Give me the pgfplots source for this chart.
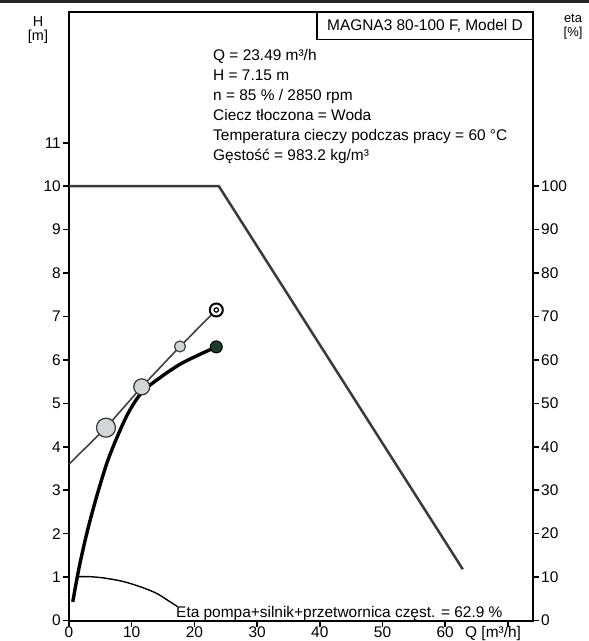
\documentclass[border=0pt]{standalone}
\usepackage{fontspec}
\setmainfont{Liberation Sans}
\usepackage{pgfplots}
\pgfplotsset{compat=1.18}
\definecolor{dotgray}{HTML}{D3D5D7}
\definecolor{opgreen}{HTML}{1E3B2C}
\definecolor{maxline}{HTML}{3A3A3A}

\begin{document}
\begin{tikzpicture}[font=\fontsize{15.5}{19.9}\selectfont]
\useasboundingbox (-69bp,-20.5bp) rectangle (520bp,620.5bp);
\pgfplotsset{
  frame/.style={
    scale only axis, width=464bp, height=608bp,
    xmin=0, xmax=74,
    tick align=outside, major tick length=6bp,
    major tick style={black, line width=1.5bp},
    axis line style={line width=2bp},
    /pgf/number format/assume math mode=true,
    tick label style={font=\fontsize{15.5}{18}\selectfont},
    yticklabel style={inner sep=2bp},
  },
}
\begin{axis}[frame, ymin=0, ymax=14,
  xtick={0,10,...,70}, xticklabels={0,10,20,30,40,50,60,{}},
  ytick={0,1,...,11},
  xtick pos=bottom, ytick pos=left,
  xticklabel style={inner sep=0.5bp},
  clip=false]
% max curve
\addplot[maxline, line width=2.5bp] coordinates {(0,10) (23.9,10) (62.8,1.18)};
% eta
\addplot[black, line width=1.4bp, smooth] coordinates {(1.1,1.01) (3.2,1.01) (5.5,0.98)
  (8.6,0.90) (11.5,0.77) (13.9,0.63) (15.7,0.47) (17.3,0.32)};
% pump curve
\addplot[black, line width=3.4bp, smooth] coordinates {(0.6,0.43) (1.64,1.24) (2.98,2.09)
  (4.58,2.94) (6.43,3.78) (9.2,4.71) (11.6,5.25) (14.5,5.59) (17.7,5.90) (20.9,6.13) (23.49,6.3)};
% system curve
\addplot[black!75, line width=1.6bp] coordinates {(0,3.6) (5.9,4.44) (11.6,5.38) (17.7,6.31) (23.49,7.15)};
\addplot[only marks, mark=*, mark size=9.5bp, mark options={fill=dotgray, draw=black!80, line width=1.2bp}]
  coordinates {(5.9,4.44)};
\addplot[only marks, mark=*, mark size=8bp, mark options={fill=dotgray, draw=black!80, line width=1.2bp}]
  coordinates {(11.6,5.38)};
\addplot[only marks, mark=*, mark size=5.5bp, mark options={fill=dotgray, draw=black!80, line width=1.1bp}]
  coordinates {(17.7,6.31)};
\addplot[only marks, mark=*, mark size=6.5bp, mark options={fill=white, draw=black, line width=2bp}]
  coordinates {(23.49,7.15)};
\addplot[only marks, mark=o, mark size=2.2bp, mark options={draw=black, line width=1.2bp}]
  coordinates {(23.49,7.15)};
\addplot[only marks, mark=*, mark size=6bp, mark options={fill=opgreen, draw=black, line width=1bp}]
  coordinates {(23.49,6.3)};
\end{axis}
\begin{axis}[frame, ymin=0, ymax=140,
  axis x line=none, axis y line*=right,
  ytick={0,10,...,100}]
\addplot[draw=none] coordinates {(0,0)};
\end{axis}

% scan edge at the top
\fill[black!85] (-69bp,617.5bp) rectangle (520bp,620.5bp);

% header box
\draw[line width=1.5bp] (248bp,581.2bp) rectangle (464bp,608bp);
\node[inner sep=0] at (356bp,594.5bp) {MAGNA3 80-100 F, Model D};

% duty point text
\begin{scope}[every node/.style={anchor=base west, inner sep=0}]
\node at (144bp,559.5bp) {Q = 23.49 m³/h};
\node at (144bp,539.5bp) {H = 7.15 m};
\node at (144bp,520bp) {n = 85 \% / 2850 rpm};
\node at (144bp,500bp) {Ciecz tłoczona = Woda};
\node at (144bp,480bp) {Temperatura cieczy podczas pracy = 60 °C};
\node at (144bp,460bp) {Gęstość = 983.2 kg/m³};
\node at (107bp,3.5bp) {Eta pompa+silnik+przetwornica częst. = 62.9 \%};
\node at (396bp,-17bp) {Q [m³/h]};
\end{scope}

% axis titles
\begin{scope}[every node/.style={anchor=base, inner sep=0}]
\node[font=\fontsize{14.5}{16}\selectfont] at (-31bp,593.5bp) {H};
\node[font=\fontsize{14.5}{16}\selectfont] at (-31bp,579.5bp) {[m]};
\node[font=\fontsize{13}{15}\selectfont] at (504bp,597.5bp) {eta};
\node[font=\fontsize{13}{15}\selectfont] at (504bp,583.5bp) {[\%]};
\end{scope}
\end{tikzpicture}
\end{document}
